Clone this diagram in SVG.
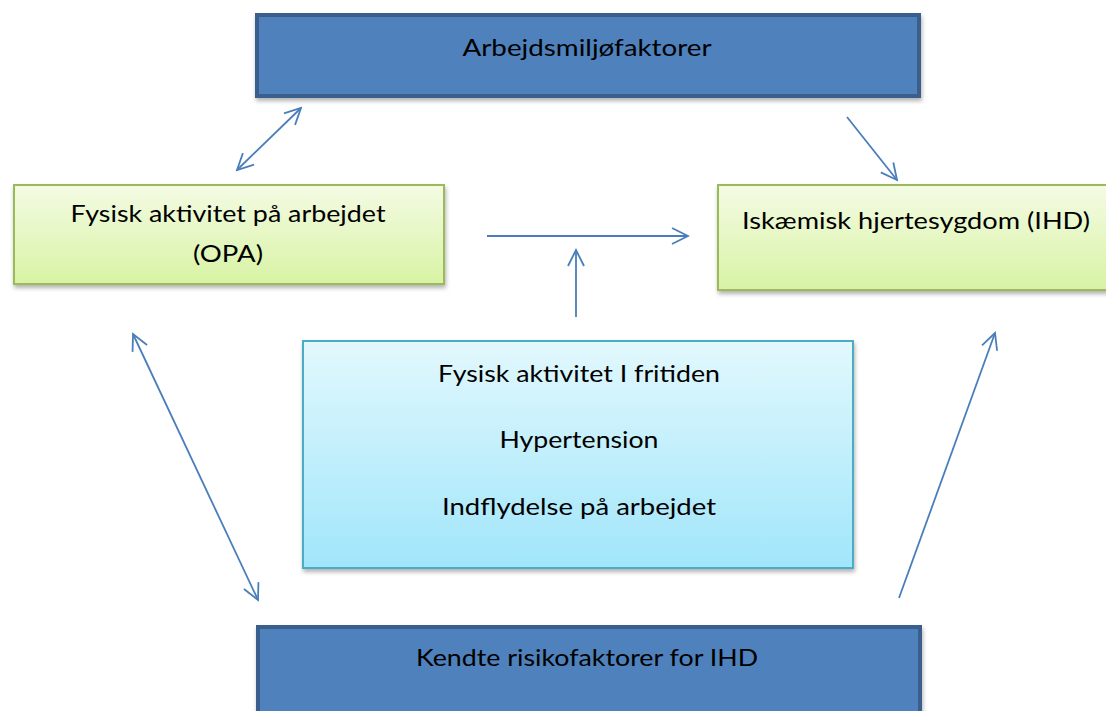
<svg xmlns="http://www.w3.org/2000/svg" width="1106" height="711" viewBox="0 0 1106 711">
<defs>
<linearGradient id="gGreen" x1="0" y1="0" x2="0" y2="1"><stop offset="0" stop-color="#f4fbe4"/><stop offset="1" stop-color="#d8f3a4"/></linearGradient>
<linearGradient id="gCyan" x1="0" y1="0" x2="0" y2="1"><stop offset="0" stop-color="#e2f8fd"/><stop offset="1" stop-color="#a1e6fb"/></linearGradient>
<filter id="sh" x="-5%" y="-10%" width="110%" height="125%"><feDropShadow dx="1" dy="3" stdDeviation="2" flood-color="#000" flood-opacity="0.3"/></filter>
<marker id="ah" viewBox="0 0 20 20" refX="18" refY="10" markerWidth="20" markerHeight="20" markerUnits="userSpaceOnUse" orient="auto-start-reverse"><path d="M2,2 L18,10 L2,18" fill="none" stroke="#4a7ebb" stroke-width="1.8"/></marker>
<style>
.t{font-family:Lato,"Open Sans",sans-serif;font-size:24px;fill:#000;text-anchor:middle}
.blue{fill:#4f81bd;stroke:#3a5f8d;stroke-width:4}
.green{fill:url(#gGreen);stroke:#9bbb59;stroke-width:2}
.cyan{fill:url(#gCyan);stroke:#4bacc6;stroke-width:2}
.c{stroke:#4a7ebb;stroke-width:1.8;fill:none}
</style>
</defs>
<rect width="1106" height="711" fill="#fff"/>
<g id="arbejdsmiljo">
<rect class="blue" x="257" y="15" width="662" height="81" filter="url(#sh)"/>
<text class="t" x="587" y="56" textLength="249" lengthAdjust="spacingAndGlyphs">Arbejdsmiljøfaktorer</text>
</g>
<g id="opa">
<rect class="green" x="14" y="185" width="430" height="99" filter="url(#sh)"/>
<text class="t" x="228" y="222" textLength="315" lengthAdjust="spacingAndGlyphs">Fysisk aktivitet på arbejdet</text>
<text class="t" x="228" y="262" textLength="70" lengthAdjust="spacingAndGlyphs">(OPA)</text>
</g>
<g id="ihd">
<rect class="green" x="718" y="185" width="400" height="105" filter="url(#sh)"/>
<text class="t" x="916" y="229" textLength="348" lengthAdjust="spacingAndGlyphs">Iskæmisk hjertesygdom (IHD)</text>
</g>
<g id="mediators">
<rect class="cyan" x="303" y="341" width="550" height="227" filter="url(#sh)"/>
<text class="t" x="579" y="382" textLength="282" lengthAdjust="spacingAndGlyphs">Fysisk aktivitet I fritiden</text>
<text class="t" x="579" y="448" textLength="159" lengthAdjust="spacingAndGlyphs">Hypertension</text>
<text class="t" x="579" y="515" textLength="274" lengthAdjust="spacingAndGlyphs">Indflydelse på arbejdet</text>
</g>
<g id="kendte">
<rect class="blue" x="258" y="627" width="662" height="100" filter="url(#sh)"/>
<text class="t" x="587" y="666" textLength="342" lengthAdjust="spacingAndGlyphs">Kendte risikofaktorer for IHD</text>
</g>
<g id="connectors">
<line class="c" x1="237" y1="170" x2="301" y2="108" marker-start="url(#ah)" marker-end="url(#ah)"/>
<line class="c" x1="847" y1="117" x2="897" y2="180" marker-end="url(#ah)"/>
<line class="c" x1="487" y1="236" x2="688" y2="236" marker-end="url(#ah)"/>
<line class="c" x1="576" y1="317" x2="576" y2="250" marker-end="url(#ah)"/>
<line class="c" x1="133" y1="334" x2="258" y2="600" marker-start="url(#ah)" marker-end="url(#ah)"/>
<line class="c" x1="899" y1="598" x2="995" y2="333" marker-end="url(#ah)"/>
</g>
</svg>
